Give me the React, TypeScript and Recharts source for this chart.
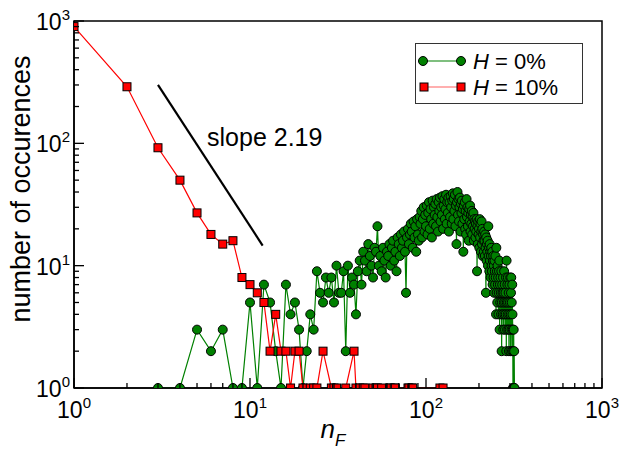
import { ComposedChart, Line, XAxis, YAxis, ReferenceLine, ReferenceDot, ReferenceArea, Legend } from "recharts"

// H = 10%: n_F values that occur, and how often
const redN = [1, 2, 3, 4, 5, 6, 7, 8, 9, 10, 11, 12, 13, 14, 15, 16, 17, 18, 19, 20, 22, 23, 24, 26, 29, 30, 31, 35, 39, 40, 42, 44, 45, 50, 52, 53, 56, 62, 63, 66, 67, 79, 80, 83, 84, 120, 125]
const redCount = [900, 290, 92, 50, 27, 18, 15, 16, 8, 7, 6, 5, 2, 4, 2, 2, 1, 2, 2, 1, 1, 1, 1, 2, 1, 1, 1, 1, 2, 1, 1, 1, 1, 1, 1, 1, 1, 1, 1, 1, 1, 1, 1, 1, 1, 1, 1]

// H = 0%: one count per n_F, starting at n_F = 3
const greenStart = 3
const greenCount = [
  1, 1, 3, 2, 3, 1, 1, 5, 1, 7,
  5, 2, 1, 7, 4, 5, 3, 1, 2, 4,
  3, 9, 6, 5, 8, 6, 8, 5, 10, 6,
  6, 9, 2, 10, 6, 8, 7, 4, 9, 11,
  7, 13, 11, 9, 15, 12, 10, 8, 14, 13,
  21, 10, 12, 9, 14, 11, 8, 13, 12, 15,
  10, 14, 16, 11, 13, 9, 17, 15, 12, 18,
  14, 16, 19, 13, 6, 17, 20, 15, 18, 22,
  19, 14, 23, 17, 21, 13, 24, 18, 16, 25,
  22, 28, 17, 24, 30, 19, 26, 21, 31, 18,
  27, 33, 20, 29, 24, 17, 34, 22, 30, 26,
  32, 21, 35, 25, 19, 33, 28, 36, 23, 30,
  26, 37, 20, 31, 35, 24, 29, 38, 22, 33,
  27, 36, 19, 33, 25, 37, 30, 22, 34, 39,
  24, 35, 28, 38, 21, 31, 15, 33, 40, 26,
  35, 23, 30, 36, 19, 32, 27, 34, 22, 29,
  13, 31, 24, 33, 20, 28, 18, 35, 25, 30,
  21, 27, 16, 29, 23, 31, 19, 26, 22, 28,
  18, 25, 21, 27, 16, 24, 20, 23, 17, 22,
  19, 24, 9, 21, 15, 23, 18, 20, 14, 24,
  17, 22, 13, 19, 23, 15, 20, 12, 18, 16,
  13, 19, 16, 12, 18, 14, 6, 17, 11, 15,
  13, 16, 10, 21, 12, 14, 9, 15, 11, 13,
  8, 12, 14, 10, 9, 13, 7, 11, 12, 8,
  10, 6, 11, 9, 7, 12, 8, 4, 14, 6,
  9, 5, 10, 7, 8, 4, 6, 9, 11, 3,
  7, 5, 8, 6, 4, 9, 2, 5, 7, 6,
  4, 8, 3, 6, 5, 9, 4, 7, 3, 5,
  6, 4, 8, 2, 11, 5, 3, 7, 4, 8,
  5, 3, 6, 2, 4, 7, 3, 5, 8, 2,
  4, 6, 8, 3, 5, 2, 7, 4, 3, 1,
  2, 1, 3, 1, 2, 1,
]

const slopeLine = [
  { n: 3, count: 300 },
  { n: 11.8, count: 14.6 },
]
const slopeLabel = "slope 2.19"
const slopeLabelAt = { n: 5.7, count: 113 }

const decades = [1, 10, 100, 1000]
const minorSteps = [2, 3, 4, 5, 6, 7, 8, 9]

const greenData = greenCount.map((c, i) => ({ n: greenStart + i, count: c }))
const redData = redN.map((n, i) => ({ n, count: redCount[i] }))
const logTicks = decades.flatMap((d, i) => (i < decades.length - 1 ? [d, ...minorSteps.map((s) => s * d)] : [d]))

const FONT = "'Liberation Sans', Arial, Helvetica, sans-serif"
const GREEN = "#008000"
const RED = "#ff0000"

const isMajor = (v: number) => Math.abs(Math.log10(v) - Math.round(Math.log10(v))) < 1e-6

const XTick = (props: any) => {
  const { x, y, payload } = props
  const v = payload.value
  const major = isMajor(v)
  return (
    <g>
      <line x1={x} y1={y} x2={x} y2={y - (major ? 10 : 5)} stroke="#000" strokeWidth={1.3} />
      {major && (
        <text x={x} y={y + 30} textAnchor="middle" fontSize={23} fontFamily={FONT} fill="#000">
          10<tspan dy={-10} fontSize={15}>{Math.round(Math.log10(v))}</tspan>
        </text>
      )}
    </g>
  )
}

const YTick = (props: any) => {
  const { x, y, payload } = props
  const v = payload.value
  const major = isMajor(v)
  return (
    <g>
      <line x1={x} y1={y} x2={x + (major ? 10 : 5)} y2={y} stroke="#000" strokeWidth={1.3} />
      {major && (
        <text x={x - 4} y={y + 9} textAnchor="end" fontSize={23} fontFamily={FONT} fill="#000">
          10<tspan dy={-10} fontSize={15}>{Math.round(Math.log10(v))}</tspan>
        </text>
      )}
    </g>
  )
}

const GreenDot = (p: any) => <circle key={p.key} cx={p.cx} cy={p.cy} r={4.5} fill={GREEN} stroke="#000" strokeWidth={1} />
const RedDot = (p: any) => (
  <rect key={p.key} x={p.cx - 4} y={p.cy - 4} width={8} height={8} fill={RED} stroke="#000" strokeWidth={1} />
)

const LegendBox = () => (
  <svg width={168} height={61} style={{ display: "block" }}>
    <rect x={0.5} y={0.5} width={167} height={60} fill="#fff" stroke="#333" strokeWidth={1} />
    <line x1={8} y1={18} x2={46} y2={18} stroke={GREEN} strokeWidth={1.2} />
    <circle cx={8} cy={18} r={4.5} fill={GREEN} stroke="#000" />
    <circle cx={46} cy={18} r={4.5} fill={GREEN} stroke="#000" />
    <text x={58} y={26} fontSize={22} fontFamily={FONT} fill="#000">
      <tspan fontStyle="italic">H</tspan> = 0%
    </text>
    <line x1={9} y1={44} x2={46} y2={44} stroke="#ff6060" strokeWidth={1.2} />
    <rect x={5} y={40} width={8} height={8} fill={RED} stroke="#000" />
    <rect x={42} y={40} width={8} height={8} fill={RED} stroke="#000" />
    <text x={58} y={52} fontSize={22} fontFamily={FONT} fill="#000">
      <tspan fontStyle="italic">H</tspan> = 10%
    </text>
  </svg>
)

export default function App() {
  return (
    <div style={{ position: "absolute", left: 0, top: 0, width: 619, height: 452, background: "#fff" }}>
      <ComposedChart width={619} height={452} margin={{ top: 21, right: 17, bottom: 0, left: 0 }}>
        <XAxis
          dataKey="n"
          type="number"
          scale="log"
          domain={[1, 1000]}
          allowDataOverflow
          ticks={logTicks}
          interval={0}
          tickSize={0}
          tickMargin={0}
          tick={<XTick />}
          height={64}
          axisLine={{ stroke: "#000", strokeWidth: 1.5 }}
          label={() => (
            <text x={333} y={438} textAnchor="middle" fontSize={26} fontFamily={FONT} fill="#000">
              <tspan fontStyle="italic">n</tspan>
              <tspan dy={8} fontSize={17} fontStyle="italic">F</tspan>
            </text>
          )}
        />
        <YAxis
          dataKey="count"
          type="number"
          scale="log"
          domain={[1, 1000]}
          allowDataOverflow
          ticks={logTicks}
          interval={0}
          tickSize={0}
          tickMargin={0}
          tick={<YTick />}
          width={74}
          axisLine={{ stroke: "#000", strokeWidth: 1.5 }}
          label={() => (
            <text
              x={30}
              y={189}
              transform="rotate(-90, 30, 189)"
              textAnchor="middle"
              fontSize={27}
              fontFamily={FONT}
              fill="#000"
            >
              number of occurences
            </text>
          )}
        />
        <ReferenceArea x1={1} x2={1000} y1={1} y2={1000} fill="none" stroke="#000" strokeWidth={1.5} ifOverflow="visible" />
        <Line
          data={greenData}
          dataKey="count"
          type="linear"
          stroke={GREEN}
          strokeWidth={1.2}
          dot={GreenDot}
          activeDot={false}
          isAnimationActive={false}
        />
        <Line
          data={redData}
          dataKey="count"
          type="linear"
          stroke={RED}
          strokeWidth={1.2}
          dot={RedDot}
          activeDot={false}
          isAnimationActive={false}
        />
        <ReferenceLine
          segment={[
            { x: slopeLine[0].n, y: slopeLine[0].count },
            { x: slopeLine[1].n, y: slopeLine[1].count },
          ]}
          stroke="#000"
          strokeWidth={2.2}
          ifOverflow="visible"
        />
        <ReferenceDot
          x={slopeLabelAt.n}
          y={slopeLabelAt.count}
          r={0}
          fill="none"
          stroke="none"
          ifOverflow="visible"
          label={(p: any) => (
            <text x={p.viewBox.x} y={p.viewBox.y + 9} fontSize={25} fontFamily={FONT} fill="#000">
              {slopeLabel}
            </text>
          )}
        />
        <Legend
          layout="vertical"
          align="center"
          verticalAlign="middle"
          wrapperStyle={{ left: 415, top: 43, width: 168, height: 61 }}
          content={() => <LegendBox />}
        />
      </ComposedChart>
    </div>
  )
}
